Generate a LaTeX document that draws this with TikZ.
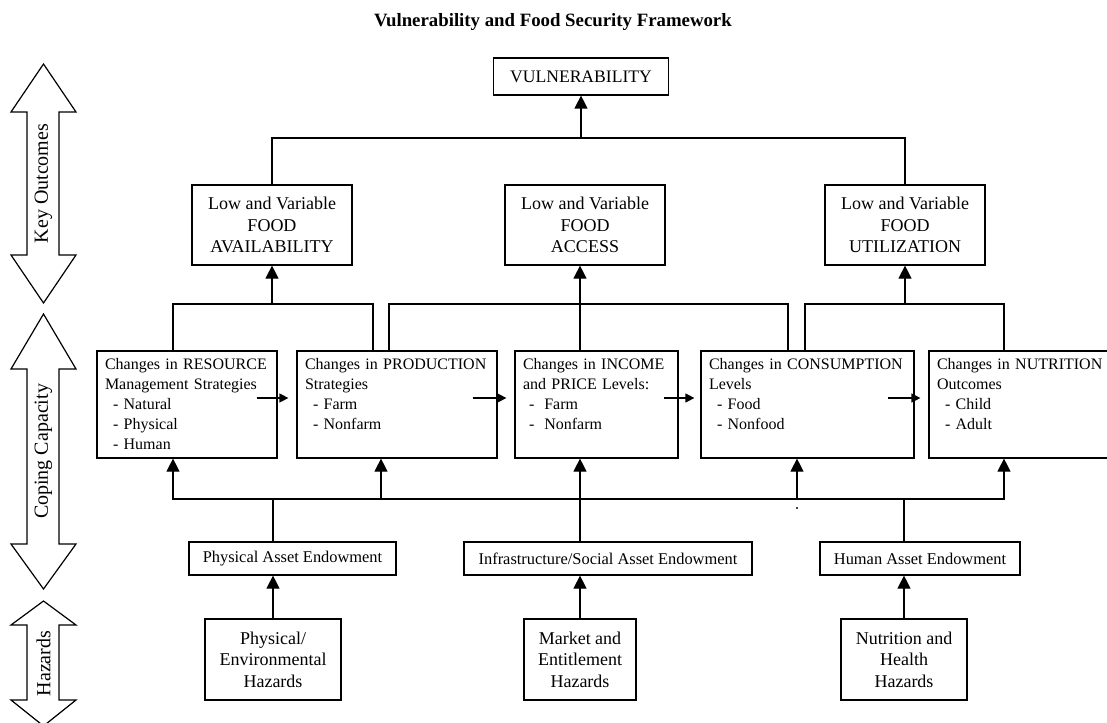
\documentclass[tikz,border=0pt]{standalone}
\usepackage{fontspec}
\setmainfont{Liberation Serif}
\usetikzlibrary{arrows.meta}

\begin{document}
\begin{tikzpicture}[x=0.5pt, y=-0.5pt, line width=0.6pt,
    arr/.style={-{Triangle[length=6.5pt,width=6.5pt]}},
    harr/.style={-{Triangle[length=4.5pt,width=4.5pt]}},
    outbox/.style={draw, align=center, minimum width=80pt, minimum height=40pt, inner sep=1pt, font=\fontsize{9}{10.8}\selectfont},
    copebox/.style={draw, align=left, inner xsep=4pt, inner ysep=3pt, text height=6pt, text depth=41.5pt, font=\fontsize{8}{10}\selectfont},
    endowbox/.style={draw, align=center, minimum height=16.5pt, inner sep=1pt, font=\fontsize{8.2}{10}\selectfont},
    hazbox/.style={draw, align=center, minimum height=40.5pt, inner sep=1pt, font=\fontsize{9}{10.8}\selectfont},
    sidelbl/.style={rotate=90, font=\fontsize{10}{12}\selectfont}]
        \useasboundingbox (0,0) rectangle (1107,722);

        % Title
        \node[font=\bfseries\fontsize{9.4}{11}\selectfont] (title) at (553,22) {Vulnerability and Food Security Framework};

        % Side arrows
        \foreach \ya/\yb/\yc/\yd/\lbl in {64/112/255/303/Key Outcomes, 314/369/544/589/Coping Capacity, 601/625/700/726/Hazards} {
            \draw (43.5,\ya) -- (76,\yb) -- (59,\yb) -- (59,\yc) -- (76,\yc) -- (43.5,\yd) -- (11,\yc) -- (27,\yc) -- (27,\yb) -- (11,\yb) -- cycle;
            \node[sidelbl] (lab\ya) at (43.5,{(\ya+\yd)/2}) {\lbl};
        }

        % Key outcomes
        \node[draw, minimum width=87.5pt, minimum height=18.5pt, inner sep=1pt, font=\fontsize{8.8}{10}\selectfont] (vuln) at (581,76.5) {VULNERABILITY};
        \node[outbox] (avail) at (272,225) {Low and Variable\\FOOD\\AVAILABILITY};
        \node[outbox] (access) at (585,225) {Low and Variable\\FOOD\\ACCESS};
        \node[outbox] (util) at (905,225) {Low and Variable\\FOOD\\UTILIZATION};

        % Coping capacity
        \node[copebox, text width=82pt] (res) at (187,404.5) {Changes in RESOURCE\\Management Strategies\\\hspace*{4pt}- Natural\\\hspace*{4pt}- Physical\\\hspace*{4pt}- Human};
        \node[copebox, text width=92pt] (prod) at (397,404.5) {Changes in PRODUCTION\\Strategies\\\hspace*{4pt}- Farm\\\hspace*{4pt}- Nonfarm};
        \node[copebox, text width=73.5pt] (inc) at (596.5,404.5) {Changes in INCOME\\and PRICE Levels:\\\hspace*{3pt}-\hspace{5pt}Farm\\\hspace*{3pt}-\hspace{5pt}Nonfarm};
        \node[copebox, text width=98.5pt] (cons) at (807.5,404.5) {Changes in CONSUMPTION\\Levels\\\hspace*{4pt}- Food\\\hspace*{4pt}- Nonfood};
        \node[copebox, text width=92pt] (nut) at (1029,404.5) {Changes in NUTRITION\\Outcomes\\\hspace*{4pt}- Child\\\hspace*{4pt}- Adult};

        % Endowments and hazards
        \node[endowbox, minimum width=103.5pt] (endphys) at (292.5,558.5) {Physical Asset Endowment};
        \node[endowbox, minimum width=144pt] (endinf) at (608,558.5) {Infrastructure/Social Asset Endowment};
        \node[endowbox, minimum width=100pt] (endhum) at (920,558.5) {Human Asset Endowment};
        \node[hazbox, minimum width=68pt] (hazphys) at (273,659.5) {Physical/\\Environmental\\Hazards};
        \node[hazbox, minimum width=56pt] (hazmkt) at (580,659.5) {Market and\\Entitlement\\Hazards};
        \node[hazbox, minimum width=63pt] (haznut) at (904,659.5) {Nutrition and\\Health\\Hazards};

        % Top connectors
        \coordinate (topbar) at (581,138);
        \draw (avail.north) |- (topbar) -| (util.north);
        \draw[arr] (topbar) -- (vuln.south);

        \coordinate (barA) at (272,304);
        \coordinate (barB) at (580,304);
        \coordinate (barC) at (905,304);
        \draw ([xshift=-7pt]res.north) |- (barA) -| ([xshift=-12pt]prod.north);
        \draw[arr] (barA) -- (avail.south);
        \draw ([xshift=-4pt]prod.north) |- (barB) -| ([xshift=-9.75pt]cons.north);
        \draw ([xshift=-8.25pt]inc.north) -- (barB);
        \draw[arr] (barB) -- (barB |- access.south);
        \draw ([xshift=-1.25pt]cons.north) |- (barC) -| ([xshift=-12.5pt]nut.north);
        \draw[arr] (barC) -- (util.south);

        % Horizontal arrows
        \draw[harr] ([xshift=-10.5pt,yshift=3.25pt]res.east) -- ([xshift=-4pt,yshift=3.25pt]prod.west);
        \draw[harr] ([xshift=-12.5pt,yshift=3.25pt]prod.east) -- ([xshift=-4pt,yshift=3.25pt]inc.west);
        \draw[harr] ([xshift=-7.5pt,yshift=3.25pt]inc.east) -- ([xshift=-3pt,yshift=3.25pt]cons.west);
        \draw[harr] ([xshift=-13.5pt,yshift=3.25pt]cons.east) -- ([xshift=-4pt,yshift=3.25pt]nut.west);

        % Bottom connectors
        \coordinate (botL) at (173,499);
        \coordinate (botR) at (1004,499);
        \draw (botL) -- (botR);
        \foreach \n/\s in {res/-7pt, prod/-8pt, inc/-8.25pt, cons/-5.25pt, nut/-12.5pt}
            \draw[arr] ([xshift=\s]\n.south) ++(0,41) -- ([xshift=\s]\n.south);
        \foreach \h/\e in {hazphys/endphys, hazmkt/endinf, haznut/endhum} {
            \draw[arr] (\h.north) -- (\h.north |- \e.south);
            \draw (\h.north |- \e.north) -- (\h.north |- botL);
        }
        \fill (797,508) circle (0.6pt);
    \end{tikzpicture}
\end{document}
